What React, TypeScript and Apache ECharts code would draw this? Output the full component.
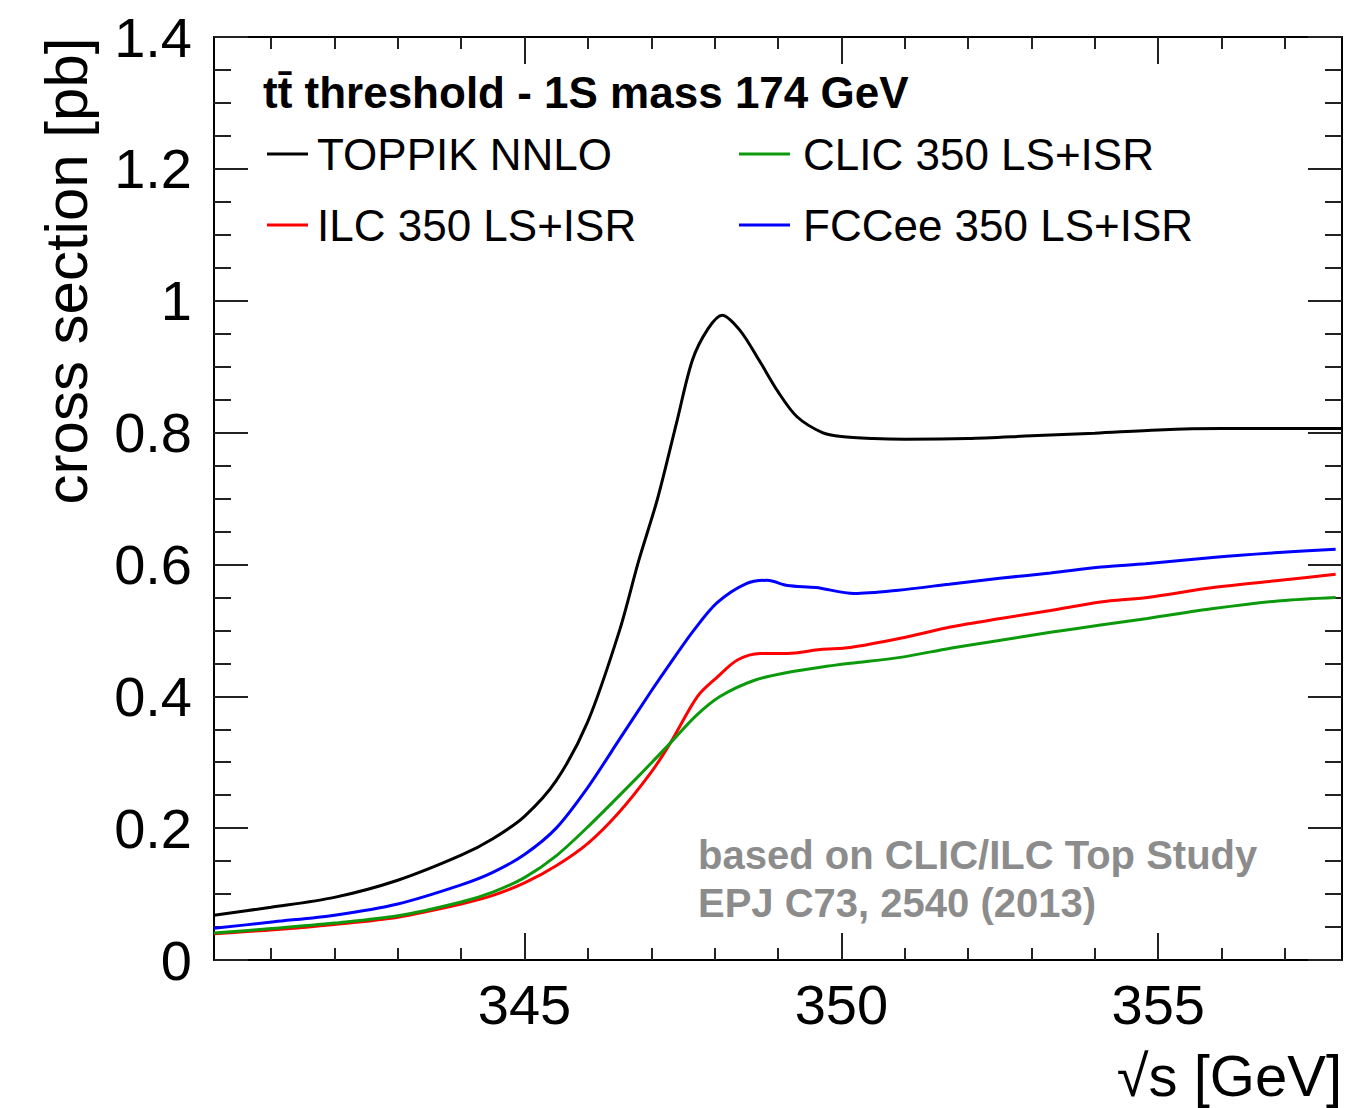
import React, { useEffect, useRef } from "react";
import * as echarts from "echarts";

// ---- data ----
const toppikX = [340.1, 341, 342, 343, 344, 344.5, 345, 345.5, 346, 346.5, 346.8, 347.1, 347.4, 347.65, 347.9, 348.12, 348.4, 348.7, 349.0, 349.3, 349.7, 350.0, 350.5, 351, 352, 353, 354, 355, 356, 357, 357.9];
const toppikY = [0.068, 0.080, 0.095, 0.121, 0.159, 0.184, 0.218, 0.272, 0.362, 0.50, 0.605, 0.70, 0.815, 0.91, 0.958, 0.978, 0.955, 0.91, 0.862, 0.824, 0.800, 0.794, 0.791, 0.790, 0.791, 0.795, 0.799, 0.804, 0.806, 0.806, 0.806];

const fccX = [340.1, 341.05, 342, 343, 344, 344.5, 345, 345.5, 346, 346.5, 347, 347.3, 347.67, 348.04, 348.5, 348.83, 349.15, 349.6, 350.2, 350.9, 351.7, 352.5, 353.3, 354.1, 354.8, 355.9, 356.9, 357.8];
const fccY = [0.048, 0.058, 0.068, 0.085, 0.114, 0.133, 0.160, 0.200, 0.262, 0.335, 0.408, 0.45, 0.50, 0.542, 0.571, 0.576, 0.568, 0.565, 0.556, 0.561, 0.570, 0.579, 0.587, 0.596, 0.601, 0.611, 0.618, 0.623];

const ilcX = [340.1, 341.05, 342, 343, 344, 344.5, 345, 345.5, 346, 346.5, 347, 347.3, 347.73, 348.04, 348.36, 348.72, 349.15, 349.67, 350.14, 350.93, 351.72, 352.51, 353.3, 354.09, 354.83, 355.87, 356.93, 357.8];
const ilcY = [0.040, 0.046, 0.054, 0.065, 0.085, 0.098, 0.117, 0.143, 0.177, 0.225, 0.285, 0.329, 0.400, 0.429, 0.455, 0.465, 0.465, 0.471, 0.474, 0.488, 0.505, 0.518, 0.530, 0.543, 0.550, 0.565, 0.576, 0.585];

const clicX = [340.1, 341.05, 342, 343, 344, 344.5, 345, 345.5, 346, 346.78, 347.3, 347.7, 348.09, 348.62, 349.15, 349.67, 350.14, 350.93, 351.72, 352.51, 353.3, 354.09, 354.83, 355.87, 356.93, 357.8];
const clicY = [0.041, 0.048, 0.056, 0.067, 0.088, 0.103, 0.125, 0.158, 0.202, 0.277, 0.329, 0.37, 0.400, 0.424, 0.436, 0.444, 0.450, 0.459, 0.473, 0.485, 0.497, 0.508, 0.518, 0.533, 0.545, 0.550];

const xMajorTicks = [345, 350, 355];
const xMinorTicks = [341, 342, 343, 344, 346, 347, 348, 349, 351, 352, 353, 354, 356, 357];
const xMin = 340.1;
const xMax = 357.9;
const yMin = 0;
const yMax = 1.4;
const yStep = 0.2;

const seriesNames = ["TOPPIK NNLO", "ILC 350 LS+ISR", "CLIC 350 LS+ISR", "FCCee 350 LS+ISR"];
const headerText = "t\u0074\u0304 threshold - 1S mass 174 GeV";
const noteLines = ["based on CLIC/ILC Top Study", "EPJ C73, 2540 (2013)"];
const yTitle = "cross section [pb]";
const xTitle = "\u221As [GeV]";

const FONT = "'Liberation Sans', Arial, Helvetica, sans-serif";

function pairs(xs: number[], ys: number[]) {
  return xs.map((x, i) => [x, ys[i]]);
}

const tickLine = { color: "#222", width: 2 };

function xAxisBase(position: string, ticks: number[], len: number, showLine: boolean, showLabels: boolean) {
  return {
    type: "value",
    min: xMin,
    max: xMax,
    position,
    splitLine: { show: false },
    axisLine: { show: showLine, lineStyle: { color: "#000", width: 2 } },
    axisTick: { show: true, inside: true, length: len, customValues: ticks, lineStyle: tickLine },
    axisLabel: showLabels
      ? { show: true, customValues: xMajorTicks, fontSize: 56, color: "#000", margin: 16, fontFamily: FONT }
      : { show: false },
  };
}

function yAxisBase(position: string, showLabels: boolean) {
  return {
    type: "value",
    min: yMin,
    max: yMax,
    interval: yStep,
    position,
    splitLine: { show: false },
    axisLine: { show: true, lineStyle: { color: "#000", width: 2 } },
    axisTick: { show: true, inside: true, length: 34, lineStyle: tickLine },
    minorTick: { show: true, splitNumber: 4, length: 17, lineStyle: tickLine },
    axisLabel: showLabels
      ? {
          show: true,
          fontSize: 56,
          color: "#000",
          margin: 22,
          fontFamily: FONT,
          formatter: (v: number) => String(Math.round(v * 10) / 10),
        }
      : { show: false },
  };
}

const legendText = { fontSize: 44, lineHeight: 44, color: "#000", fontFamily: FONT };

function lineSeries(name: string, xs: number[], ys: number[], color: string, width: number, z: number) {
  return {
    name,
    type: "line",
    data: pairs(xs, ys),
    showSymbol: false,
    smooth: 0.3,
    lineStyle: { color, width },
    itemStyle: { color },
    z,
  };
}

export default function App() {
  const ref = useRef<HTMLDivElement>(null);
  useEffect(() => {
    if (!ref.current) return;
    const chart = echarts.init(ref.current, null, { renderer: "svg" });
    const option: any = {
      animation: false,
      backgroundColor: "#fff",
      grid: { left: 214, right: 5, top: 37, bottom: 148, containLabel: false },
      title: {
        text: headerText,
        left: 263,
        top: 70,
        padding: 0,
        textStyle: { fontSize: 44, fontWeight: "bold", lineHeight: 44, color: "#000", fontFamily: FONT },
      },
      legend: [
        {
          data: [seriesNames[0], seriesNames[1]],
          orient: "vertical",
          left: 267,
          top: 132,
          padding: 0,
          itemWidth: 41,
          itemHeight: 3,
          itemGap: 27,
          icon: "rect",
          selectedMode: false,
          textStyle: { ...legendText, padding: [0, 0, 0, 4] },
        },
        {
          data: [seriesNames[2], seriesNames[3]],
          orient: "vertical",
          left: 739,
          top: 132,
          padding: 0,
          itemWidth: 51,
          itemHeight: 3,
          itemGap: 27,
          icon: "rect",
          selectedMode: false,
          textStyle: { ...legendText, padding: [0, 0, 0, 8] },
        },
      ],
      xAxis: [
        xAxisBase("bottom", xMajorTicks, 27, true, true),
        xAxisBase("bottom", xMinorTicks, 12, false, false),
        xAxisBase("top", xMajorTicks, 27, true, false),
        xAxisBase("top", xMinorTicks, 12, false, false),
      ],
      yAxis: [yAxisBase("left", true), yAxisBase("right", false)],
      series: [
        lineSeries(seriesNames[0], toppikX, toppikY, "#000", 3, 5),
        lineSeries(seriesNames[1], ilcX, ilcY, "#ff0000", 3, 3),
        lineSeries(seriesNames[2], clicX, clicY, "#0c9a0c", 3, 4),
        lineSeries(seriesNames[3], fccX, fccY, "#0000ff", 3, 3),
      ],
      graphic: [
        {
          type: "text",
          x: 66,
          y: 271,
          rotation: Math.PI / 2,
          style: {
            text: yTitle,
            fontSize: 60,
            fontFamily: FONT,
            fill: "#000",
            align: "center",
            verticalAlign: "middle",
          },
        },
        {
          type: "text",
          right: 5,
          top: 1046,
          style: {
            text: xTitle,
            fontSize: 58,
            fontFamily: FONT,
            fill: "#000",
          },
        },
        {
          type: "text",
          x: 698,
          y: 855,
          style: {
            text: noteLines[0],
            fontSize: 40,
            fontWeight: "bold",
            fontFamily: FONT,
            fill: "#8c8c8c",
            align: "left",
            verticalAlign: "middle",
          },
        },
        {
          type: "text",
          x: 698,
          y: 903,
          style: {
            text: noteLines[1],
            fontSize: 40,
            fontWeight: "bold",
            fontFamily: FONT,
            fill: "#8c8c8c",
            align: "left",
            verticalAlign: "middle",
          },
        },
      ],
    };
    chart.setOption(option);
    return () => chart.dispose();
  }, []);
  return (
    <div
      ref={ref}
      style={{ position: "absolute", left: 0, top: 0, width: 1347, height: 1108 }}
    />
  );
}
